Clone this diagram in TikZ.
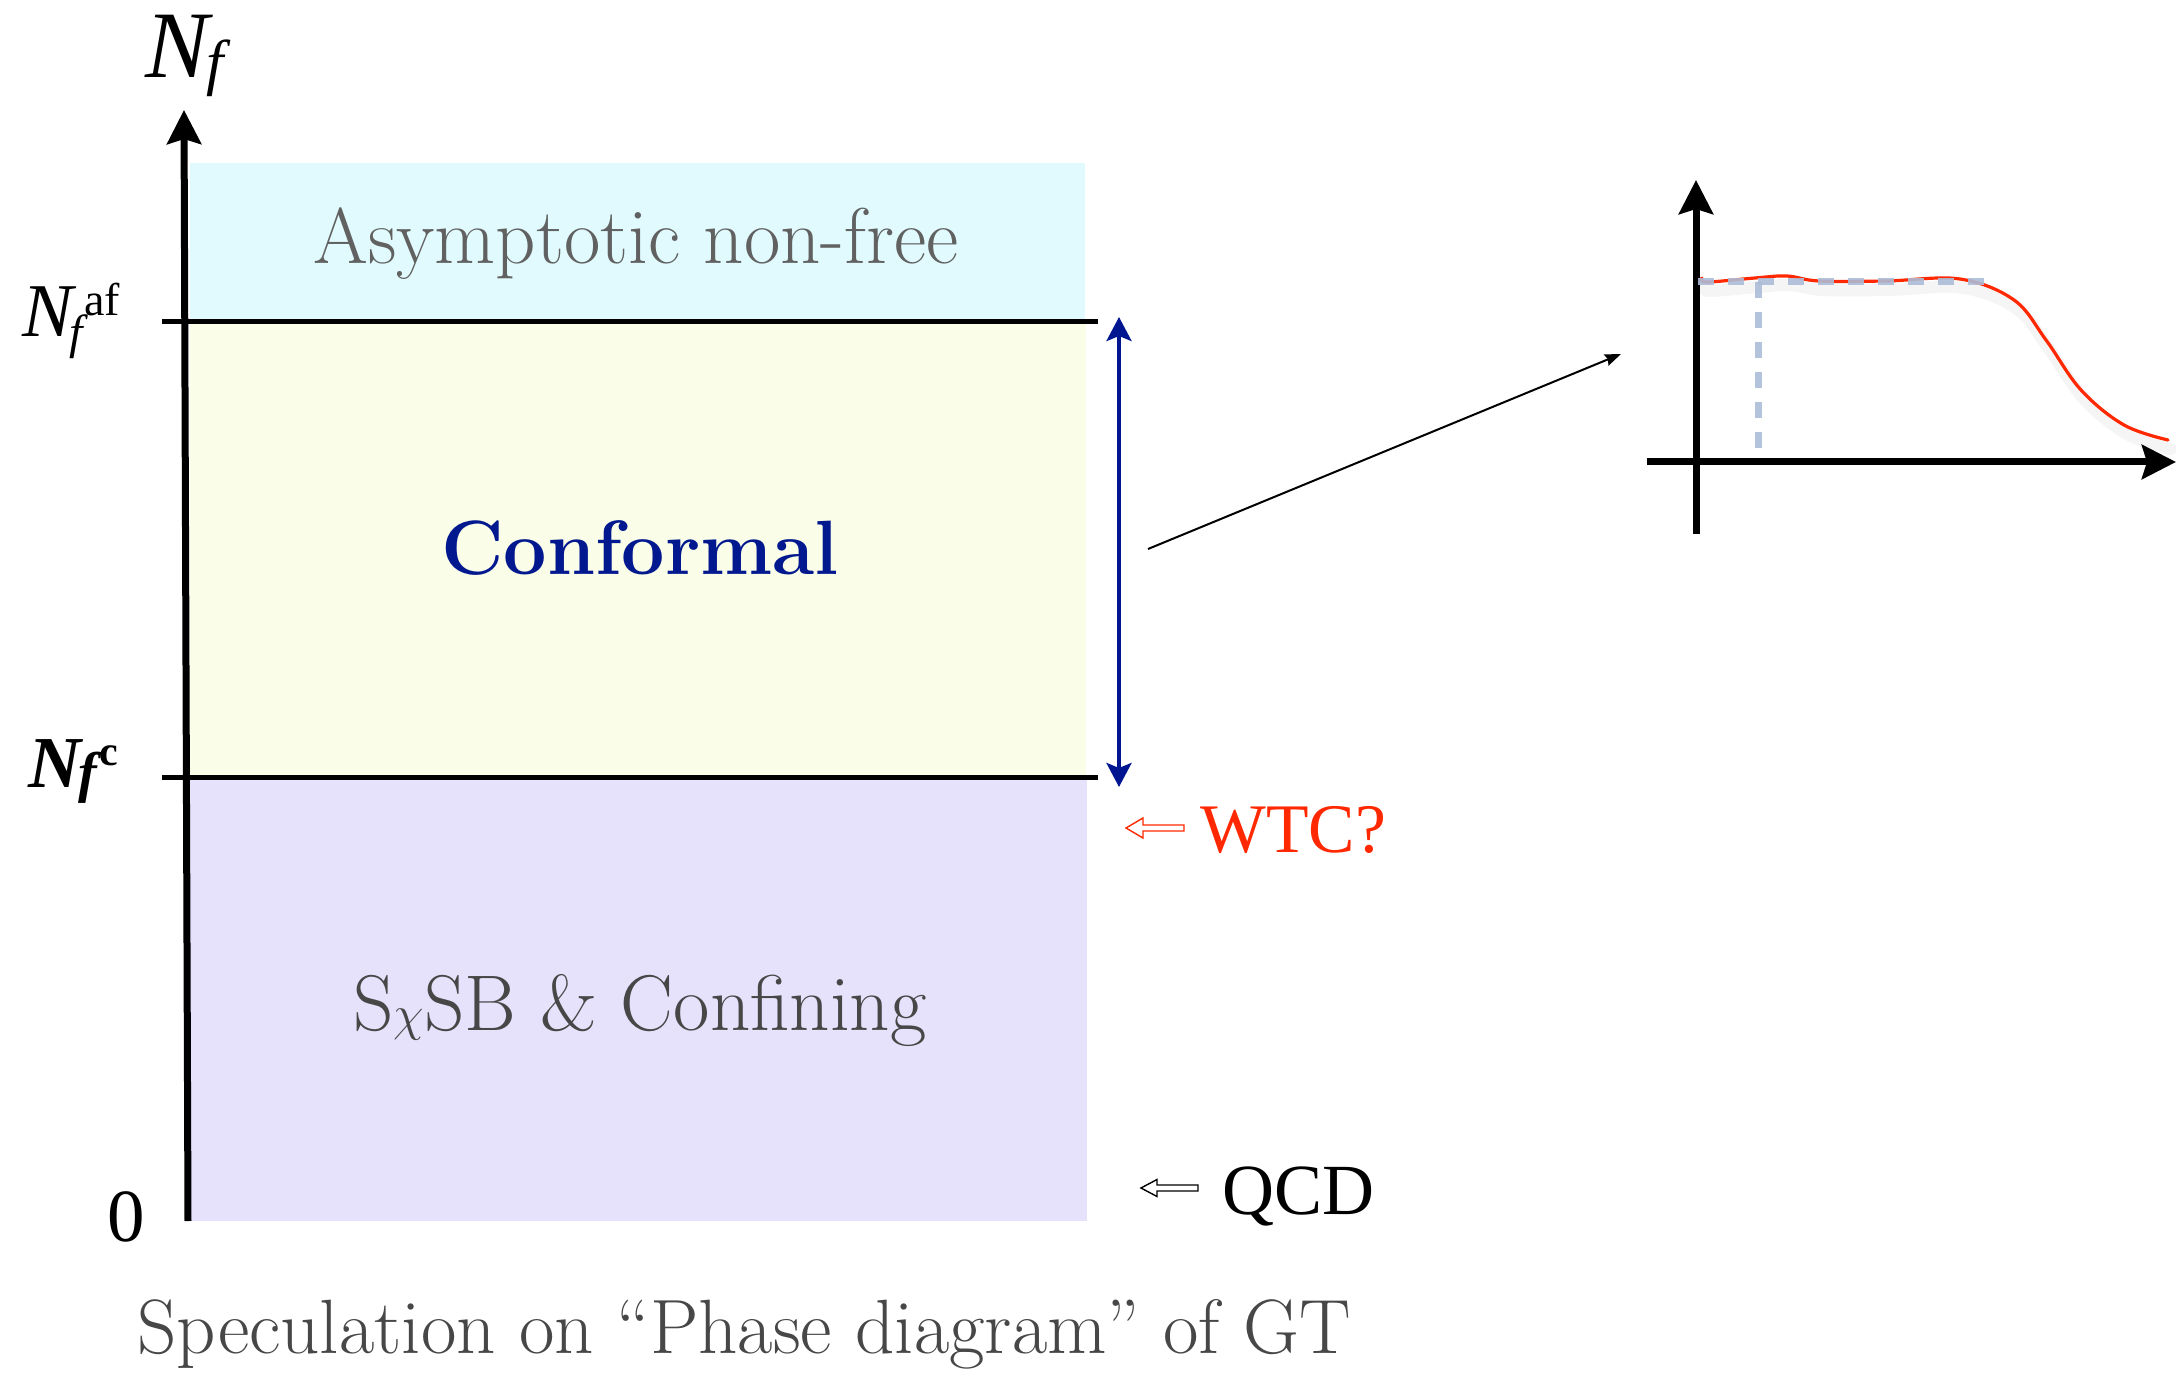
\documentclass[tikz,border=0pt]{standalone}
\usepackage{fontspec}
\usetikzlibrary{arrows.meta}
\newfontfamily\tnr{Liberation Serif}
\definecolor{bandcyan}{RGB}{224,250,253}
\definecolor{bandyellow}{RGB}{250,253,232}
\definecolor{bandpurple}{RGB}{231,226,252}
\definecolor{confblue}{RGB}{2,24,143}
\definecolor{arrowblue}{RGB}{0,22,145}
\definecolor{wtcred}{RGB}{255,40,0}
\definecolor{guideblue}{RGB}{172,188,216}

\begin{document}
\begin{tikzpicture}[
  x=0.5pt,
  y=-0.5pt,
  nfaxis/.style={line width=3.5pt,-{Stealth[length=17pt,width=17pt,inset=2.5pt]}},
  level/.style={line width=2.5pt},
  spanarrow/.style={line width=2pt,draw=arrowblue,{Stealth[length=12pt,width=12.5pt,inset=2.5pt]}-{Stealth[length=12pt,width=12.5pt,inset=2.5pt]}},
  pointer/.style={line width=1pt,-{Stealth[length=8pt,width=6pt,inset=1pt]}},
  hollow/.style={line width=0.7pt,fill=white,line join=miter},
  region/.style={inner sep=0pt,anchor=base,font=\fontsize{39.5}{42}\selectfont},
  sidelab/.style={inner sep=0pt,anchor=base west,font=\tnr\fontsize{36}{38}\selectfont},
  redcurve/.style={line width=1.6pt,draw=wtcred,line cap=round,line join=round},
  guide/.style={line width=3.5pt,draw=guideblue,opacity=0.9,dash pattern=on 8pt off 7pt}
]
\useasboundingbox (0,0) rectangle (2176,1374);
% phase bands
\fill[bandcyan] (190,163) rectangle (1085,322);
\fill[bandyellow] (190,322) rectangle (1086,777);
\fill[bandpurple] (190,777) rectangle (1087,1221);
\draw[level] (162,322) -- (1098,322);
\draw[level] (162,777) -- (1098,777);
% Nf axis
\coordinate (origin) at (188,1221);
\coordinate (top) at (184,110);
\draw[nfaxis] (origin) -- (top);
\node[inner sep=0pt,anchor=base west,font=\tnr\itshape\fontsize{47.6}{50}\selectfont] (nflab) at (145,78)
  {N\kern-1pt\raisebox{-3pt}{\fontsize{31}{31}\selectfont f}};
\node[inner sep=0pt,anchor=base west,font=\tnr\itshape\fontsize{38}{40}\selectfont] (nfaf) at (22,337)
  {N\kern-2pt\raisebox{-6pt}{\fontsize{24}{24}\selectfont f}\kern1pt\raisebox{10.5pt}{\upshape\fontsize{23}{23}\selectfont af}};
\node[inner sep=0pt,anchor=base west,font=\tnr\bfseries\itshape\fontsize{36.6}{40}\selectfont] (nfc) at (28,787)
  {N\kern-1.5pt\raisebox{-2pt}{\fontsize{28}{28}\selectfont f}\kern1.5pt\raisebox{11pt}{\upshape\fontsize{21}{21}\selectfont c}};
\node[sidelab,font=\tnr\fontsize{37.5}{40}\selectfont] (zero) at (107,1241) {0};
% region names
\node[region,text=black!62] (asym) at (636,264) {Asymptotic non-free};
\node[region,text=confblue,font=\fontsize{38.5}{42}\selectfont\bfseries] (conf) at (640,575) {Conformal};
\node[region,text=black!72] (sxsb) at (640,1030) {S$\chi$SB \& Confining};
\node[region,text=black!72,font=\fontsize{38.5}{42}\selectfont] (caption) at (744,1353) {Speculation on “Phase diagram” of GT};
% conformal window
\coordinate (spantop) at (1119,317);
\coordinate (spanbot) at (1119,787);
\draw[spanarrow] (spantop) -- (spanbot);
\draw[hollow,draw=wtcred] (1126,828) -- (1143,818) -- (1143,825) -- (1184,825) -- (1184,831) -- (1143,831) -- (1143,838) -- cycle;
\node[sidelab,text=wtcred,font=\tnr\fontsize{34.8}{38}\selectfont] (wtc) at (1200,852) {WTC?};
\draw[hollow,draw=black] (1141,1188) -- (1157,1179.5) -- (1157,1185) -- (1198,1185) -- (1198,1191) -- (1157,1191) -- (1157,1196.5) -- cycle;
\node[sidelab] (qcd) at (1222,1214) {QCD};
% inset
\coordinate (from) at (1148,549);
\coordinate (to) at (1621,354);
\draw[pointer] (from) -- (to);
\coordinate (ybot) at (1696,534);
\coordinate (ytop) at (1696,180);
\coordinate (xleft) at (1647,462);
\coordinate (xright) at (2176,462);
\draw[nfaxis] (ybot) -- (ytop);
\draw[nfaxis] (xleft) -- (xright);
\draw[line width=6pt,black,opacity=0.04,line cap=round,line join=round,shift={(3,9)}] plot[smooth,tension=0.6] coordinates
  {(1702,278) (1707,282) (1755,278) (1787,276) (1819,281) (1886,281) (1960,279) (2014,300) (2046,340) (2081,390) (2124,425) (2168,440)};
\draw[redcurve] plot[smooth,tension=0.6] coordinates
  {(1702,278) (1707,282) (1755,278) (1787,276) (1819,281) (1886,281) (1960,279) (2014,300) (2046,340) (2081,390) (2124,425) (2168,440)};
\draw[guide] (1698,282) -- (1992,282);
\draw[guide] (1758,282) -- (1758,452);
\end{tikzpicture}
\end{document}
